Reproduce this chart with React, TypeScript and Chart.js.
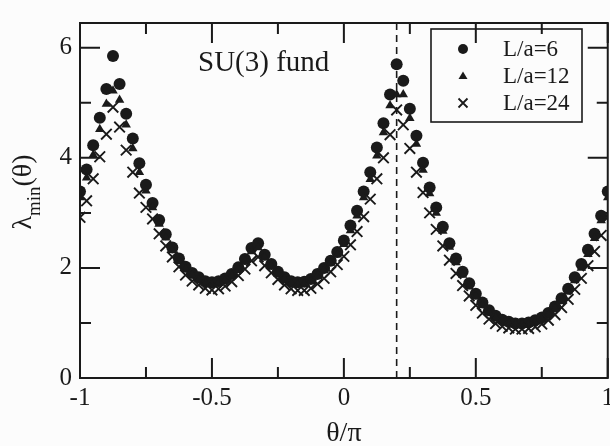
import React, { useEffect, useRef } from 'react';
import { Chart, registerables } from 'chart.js';

Chart.register(...registerables);

// ---- data ----
const theta = [
  -1.0, -0.975, -0.95, -0.925, -0.9, -0.875, -0.85, -0.825, -0.8, -0.775,
  -0.75, -0.725, -0.7, -0.675, -0.65, -0.625, -0.6, -0.575, -0.55, -0.525,
  -0.5, -0.475, -0.45, -0.425, -0.4, -0.375, -0.35, -0.325, -0.3, -0.275,
  -0.25, -0.225, -0.2, -0.175, -0.15, -0.125, -0.1, -0.075, -0.05, -0.025,
  0.0, 0.025, 0.05, 0.075, 0.1, 0.125, 0.15, 0.175, 0.2, 0.225,
  0.25, 0.275, 0.3, 0.325, 0.35, 0.375, 0.4, 0.425, 0.45, 0.475,
  0.5, 0.525, 0.55, 0.575, 0.6, 0.625, 0.65, 0.675, 0.7, 0.725,
  0.75, 0.775, 0.8, 0.825, 0.85, 0.875, 0.9, 0.925, 0.95, 0.975, 1.0,
];

const lambdaL6 = [
  3.39, 3.79, 4.23, 4.73, 5.25, 5.85, 5.34, 4.80, 4.35, 3.90,
  3.51, 3.18, 2.87, 2.61, 2.37, 2.17, 2.02, 1.91, 1.83, 1.76,
  1.74, 1.76, 1.81, 1.89, 2.01, 2.16, 2.36, 2.45, 2.24, 2.07,
  1.93, 1.83, 1.76, 1.74, 1.75, 1.80, 1.89, 2.00, 2.13, 2.29,
  2.50, 2.77, 3.04, 3.39, 3.74, 4.19, 4.63, 5.15, 5.70, 5.40,
  4.89, 4.40, 3.91, 3.46, 3.10, 2.75, 2.45, 2.17, 1.93, 1.72,
  1.53, 1.37, 1.23, 1.13, 1.06, 1.02, 0.99, 0.99, 1.01, 1.05,
  1.10, 1.18, 1.30, 1.45, 1.62, 1.83, 2.07, 2.33, 2.62, 2.95, 3.39,
];

const lambdaL12 = [
  3.28, 3.64, 4.05, 4.52, 4.98, 5.22, 5.05, 4.60, 4.17, 3.74,
  3.40, 3.10, 2.80, 2.55, 2.32, 2.13, 1.98, 1.87, 1.79, 1.73,
  1.70, 1.72, 1.77, 1.85, 1.97, 2.11, 2.30, 2.37, 2.19, 2.03,
  1.89, 1.79, 1.72, 1.70, 1.71, 1.76, 1.85, 1.96, 2.09, 2.24,
  2.43, 2.68, 2.95, 3.28, 3.61, 4.04, 4.46, 4.95, 5.15, 5.15,
  4.72, 4.25, 3.78, 3.35, 3.00, 2.67, 2.38, 2.10, 1.87, 1.66,
  1.48, 1.32, 1.19, 1.10, 1.03, 0.99, 0.97, 0.97, 0.98, 1.02,
  1.07, 1.15, 1.26, 1.41, 1.57, 1.77, 2.00, 2.25, 2.54, 2.86, 3.28,
];

const lambdaL24 = [
  2.92, 3.22, 3.62, 4.02, 4.43, 4.92, 4.56, 4.14, 3.74, 3.36,
  3.10, 2.89, 2.62, 2.40, 2.20, 2.02, 1.87, 1.76, 1.69, 1.63,
  1.60, 1.62, 1.67, 1.75, 1.86, 1.98, 2.13, 2.20, 2.04, 1.91,
  1.79, 1.69, 1.62, 1.59, 1.59, 1.63, 1.71, 1.81, 1.93, 2.06,
  2.21, 2.42, 2.66, 2.93, 3.25, 3.62, 4.00, 4.42, 4.87, 4.60,
  4.17, 3.74, 3.37, 3.00, 2.70, 2.40, 2.14, 1.90, 1.68, 1.49,
  1.32, 1.18, 1.07, 0.99, 0.94, 0.91, 0.89, 0.89, 0.90, 0.93,
  0.98, 1.05, 1.15, 1.28, 1.43, 1.61, 1.81, 2.04, 2.30, 2.59, 2.92,
];

const seriesLabels = ['L/a=6', 'L/a=12', 'L/a=24'];
const xMajorTicks = [-1, -0.5, 0, 0.5, 1];
const xMinorTicks = [-0.75, -0.25, 0.25, 0.75];
const yMajorTicks = [0, 2, 4, 6];
const yMinorTicks = [1, 3, 5];
const dashedTheta = 0.2;
const annotationText = 'SU(3) fund';
const xTitle = 'θ/π';
const yTitleMain = 'λ';
const yTitleSub = 'min';
const yTitleTail = '(θ)';

const INK = '#1a1a1a';
const SERIF = '"Liberation Serif", "Times New Roman", serif';
const CANVAS_W = 619;
const CANVAS_H = 446;

const toPoints = (ys: number[]) => theta.map((t, i) => ({ x: t, y: ys[i] }));

const decorPlugin = {
  id: 'decor',
  beforeDraw(chart: any) {
    const { ctx } = chart;
    ctx.save();
    ctx.fillStyle = '#fcfcfc';
    ctx.fillRect(0, 0, chart.width, chart.height);
    ctx.restore();
  },
  beforeDatasetsDraw(chart: any) {
    const { ctx, chartArea, scales } = chart;
    const px = scales.x.getPixelForValue(dashedTheta);
    ctx.save();
    ctx.strokeStyle = INK;
    ctx.lineWidth = 1.6;
    ctx.setLineDash([7, 5]);
    ctx.beginPath();
    ctx.moveTo(px, chartArea.bottom);
    ctx.lineTo(px, chartArea.top);
    ctx.stroke();
    ctx.restore();
  },
  afterDraw(chart: any) {
    const { ctx, chartArea, scales } = chart;
    const { left, right, top, bottom } = chartArea;
    const xs = scales.x;
    const ys = scales.y;
    ctx.save();
    ctx.strokeStyle = INK;
    ctx.lineWidth = 2;
    ctx.setLineDash([]);
    ctx.strokeRect(left, top, right - left, bottom - top);

    const major = 20;
    const minor = 11;
    ctx.beginPath();
    const xTick = (v: number, len: number) => {
      const p = xs.getPixelForValue(v);
      ctx.moveTo(p, bottom);
      ctx.lineTo(p, bottom - len);
      ctx.moveTo(p, top);
      ctx.lineTo(p, top + len);
    };
    const yTick = (v: number, len: number) => {
      const p = ys.getPixelForValue(v);
      ctx.moveTo(left, p);
      ctx.lineTo(left + len, p);
      ctx.moveTo(right, p);
      ctx.lineTo(right - len, p);
    };
    xMajorTicks.forEach((v) => xTick(v, major));
    xMinorTicks.forEach((v) => xTick(v, minor));
    yMajorTicks.forEach((v) => yTick(v, major));
    yMinorTicks.forEach((v) => yTick(v, minor));
    ctx.stroke();

    // x title
    ctx.fillStyle = INK;
    ctx.font = `28px ${SERIF}`;
    ctx.textAlign = 'center';
    ctx.textBaseline = 'alphabetic';
    ctx.fillText(xTitle, xs.getPixelForValue(0), 441);

    // y title (rotated, with subscript)
    const mainFont = `28px ${SERIF}`;
    const subFont = `19px ${SERIF}`;
    ctx.font = mainFont;
    const wMain = ctx.measureText(yTitleMain).width;
    const wTail = ctx.measureText(yTitleTail).width;
    ctx.font = subFont;
    const wSub = ctx.measureText(yTitleSub).width;
    const total = wMain + wSub + wTail;
    ctx.save();
    ctx.translate(31, 192);
    ctx.rotate(-Math.PI / 2);
    ctx.textAlign = 'left';
    let cx = -total / 2;
    ctx.font = mainFont;
    ctx.fillText(yTitleMain, cx, 0);
    cx += wMain;
    ctx.font = subFont;
    ctx.fillText(yTitleSub, cx, 9);
    cx += wSub;
    ctx.font = mainFont;
    ctx.fillText(yTitleTail, cx, 0);
    ctx.restore();

    // annotation
    ctx.font = `29px ${SERIF}`;
    ctx.textAlign = 'left';
    ctx.fillText(annotationText, 198, 71);

    // legend
    const bx = 431, by = 29, bw = 151, bh = 93;
    ctx.lineWidth = 1.6;
    ctx.strokeRect(bx, by, bw, bh);
    const rowsY = [49, 76, 103];
    const mx = 463;
    ctx.font = `23px ${SERIF}`;
    ctx.textBaseline = 'middle';
    rowsY.forEach((ry, i) => {
      ctx.fillStyle = INK;
      ctx.strokeStyle = INK;
      if (i === 0) {
        ctx.beginPath();
        ctx.arc(mx, ry, 5, 0, Math.PI * 2);
        ctx.fill();
      } else if (i === 1) {
        ctx.beginPath();
        ctx.moveTo(mx, ry - 4.5);
        ctx.lineTo(mx + 4.5, ry + 3);
        ctx.lineTo(mx - 4.5, ry + 3);
        ctx.closePath();
        ctx.fill();
      } else {
        ctx.lineWidth = 1.8;
        ctx.beginPath();
        ctx.moveTo(mx - 4.5, ry - 4.5);
        ctx.lineTo(mx + 4.5, ry + 4.5);
        ctx.moveTo(mx + 4.5, ry - 4.5);
        ctx.lineTo(mx - 4.5, ry + 4.5);
        ctx.stroke();
      }
      ctx.fillText(seriesLabels[i], 503, ry + 1);
    });
    ctx.restore();
  },
};

export default function App() {
  const canvasRef = useRef<HTMLCanvasElement | null>(null);

  useEffect(() => {
    const canvas = canvasRef.current;
    if (!canvas) return;
    const chart = new Chart(canvas, {
      type: 'scatter',
      data: {
        datasets: [
          {
            label: seriesLabels[0],
            data: toPoints(lambdaL6),
            pointStyle: 'circle',
            pointRadius: 6,
            pointBackgroundColor: INK,
            pointBorderColor: INK,
            pointBorderWidth: 0,
            showLine: false,
            order: 3,
          },
          {
            label: seriesLabels[1],
            data: toPoints(lambdaL12),
            pointStyle: 'triangle',
            pointRadius: 5.5,
            pointBackgroundColor: INK,
            pointBorderColor: INK,
            pointBorderWidth: 0,
            showLine: false,
            order: 2,
          },
          {
            label: seriesLabels[2],
            data: toPoints(lambdaL24),
            pointStyle: 'crossRot',
            pointRadius: 7.5,
            pointBackgroundColor: INK,
            pointBorderColor: INK,
            pointBorderWidth: 1.9,
            showLine: false,
            order: 1,
          },
        ],
      },
      options: {
        responsive: false,
        maintainAspectRatio: false,
        devicePixelRatio: 1,
        animation: false,
        layout: { padding: { top: 7, right: 0, left: 0, bottom: 0 } },
        plugins: {
          legend: { display: false },
          tooltip: { enabled: false },
        },
        scales: {
          x: {
            type: 'linear',
            min: -1,
            max: 1,
            grid: { display: false, drawTicks: false },
            border: { display: false },
            ticks: {
              stepSize: 0.5,
              autoSkip: false,
              maxRotation: 0,
              includeBounds: false,
              padding: 5,
              color: INK,
              font: { family: SERIF, size: 25 },
              callback: (v: any) => String(Number(v)),
            },
            afterFit: (s: any) => {
              s.height = 68;
            },
          },
          y: {
            type: 'linear',
            min: 0,
            max: 6.45,
            grid: { display: false, drawTicks: false },
            border: { display: false },
            ticks: {
              stepSize: 2,
              autoSkip: false,
              includeBounds: false,
              padding: 8,
              color: INK,
              font: { family: SERIF, size: 25 },
              callback: (v: any) => String(Number(v)),
            },
            afterFit: (s: any) => {
              s.width = 80;
            },
          },
        },
      },
      plugins: [decorPlugin],
    } as any);
    return () => chart.destroy();
  }, []);

  return (
    <div style={{ position: 'fixed', left: 0, top: 0, width: 610, height: CANVAS_H, overflow: 'hidden' }}>
      <canvas
        ref={canvasRef}
        width={CANVAS_W}
        height={CANVAS_H}
        style={{ display: 'block', width: CANVAS_W, height: CANVAS_H }}
      />
    </div>
  );
}
